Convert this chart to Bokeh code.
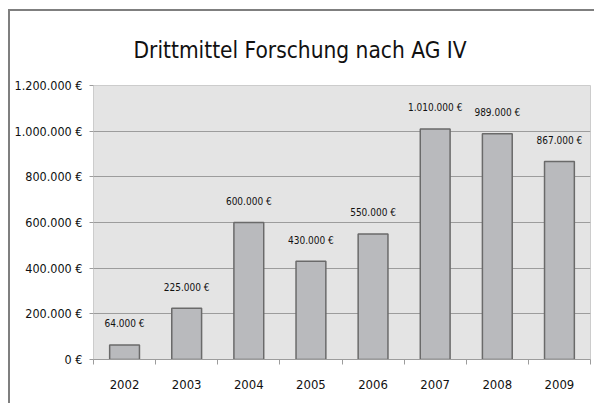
from bokeh.plotting import figure
from bokeh.models import FixedTicker, Range1d, ColumnDataSource
from bokeh.embed import file_html
from bokeh.resources import INLINE
from bokeh.core.properties import value

title_text = "Drittmittel Forschung nach AG IV"
years = ["2002", "2003", "2004", "2005", "2006", "2007", "2008", "2009"]
amounts = [64000, 225000, 600000, 430000, 550000, 1010000, 989000, 867000]
amount_labels = ["64.000 €", "225.000 €", "600.000 €", "430.000 €",
                 "550.000 €", "1.010.000 €", "989.000 €", "867.000 €"]
y_ticks = [0, 200000, 400000, 600000, 800000, 1000000, 1200000]
y_tick_labels = ["0 €", "200.000 €", "400.000 €", "600.000 €",
                 "800.000 €", "1.000.000 €", "1.200.000 €"]

FONT = "DejaVu Sans Condensed"

centers = [i + 0.5 for i in range(len(years))]
src = ColumnDataSource(dict(x=centers, top=amounts, label=amount_labels))

p = figure(width=584, height=392,
           x_range=Range1d(0, len(years)), y_range=Range1d(0, y_ticks[-1]),
           output_backend="svg", toolbar_location=None,
           min_border_left=83, min_border_right=6, min_border_top=72, min_border_bottom=46,
           background_fill_color="#e4e4e4", border_fill_color="white",
           outline_line_color="#cccccc")
p.styles = {"border-left": "2px solid #7f7f7f", "border-top": "2px solid #7f7f7f",
            "border-right": "0px none", "border-bottom": "0px none",
            "margin-left": "8px", "margin-top": "9px",
            "box-sizing": "content-box", "overflow": "hidden"}

p.title.text = title_text
p.title.align = "left"
p.title.offset = 40
p.title.standoff = 46
p.title.text_font = FONT
p.title.text_font_size = "22.5px"
p.title.text_font_style = "normal"
p.title.text_color = "#111111"

p.vbar(x="x", top="top", bottom=0, width=0.48, source=src,
       fill_color="#b9babd", line_color="#6a6a6a", line_width=1.5)
p.text(x="x", y="top", text="label", source=src, y_offset=-21,
       text_align="center", text_baseline="middle",
       text_font=value(FONT), text_font_size="10px", text_color="#111111")

p.xgrid.grid_line_color = None
p.ygrid.grid_line_color = "#9c9c9c"
p.ygrid.ticker = FixedTicker(ticks=y_ticks)

xa = p.xaxis[0]
xa.ticker = FixedTicker(ticks=centers, minor_ticks=list(range(len(years) + 1)))
xa.major_label_overrides = {c: y for c, y in zip(centers, years)}
xa.major_tick_in = 0
xa.major_tick_out = 0
xa.minor_tick_in = 0
xa.minor_tick_out = 5
xa.minor_tick_line_color = "#9c9c9c"
xa.axis_line_color = "#9c9c9c"
xa.major_label_standoff = 15
xa.major_label_text_font = FONT
xa.major_label_text_font_size = "13px"
xa.major_label_text_color = "#111111"

ya = p.yaxis[0]
ya.ticker = FixedTicker(ticks=y_ticks, minor_ticks=[])
ya.major_label_overrides = {t: l for t, l in zip(y_ticks, y_tick_labels)}
ya.axis_line_color = None
ya.major_tick_in = 0
ya.major_tick_out = 4
ya.major_tick_line_color = "#9c9c9c"
ya.major_label_standoff = 7
ya.major_label_text_font = FONT
ya.major_label_text_font_size = "12.5px"
ya.major_label_text_color = "#111111"

open("out.html", "w").write(file_html(p, INLINE))
